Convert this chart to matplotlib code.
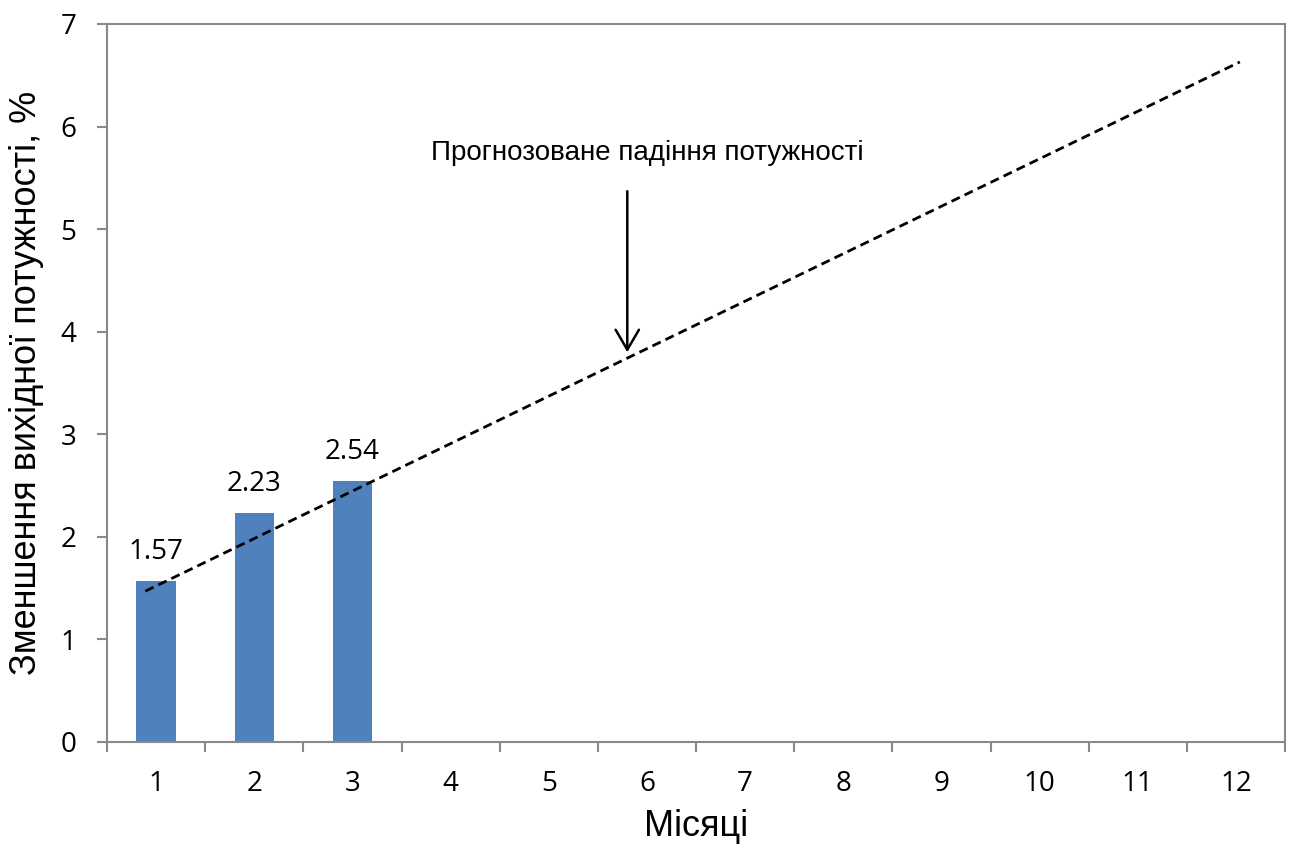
import numpy as np
import matplotlib
matplotlib.use('Agg')
import matplotlib.pyplot as plt

# дані
months = list(range(1, 13))
bar_months = [1, 2, 3]
loss = [1.57, 2.23, 2.54]

# лінія прогнозу (кінці)
trend_x = [0.89, 12.04]
trend_y = [1.47, 6.63]

arrow_x = 5.80
arrow_y_from = 5.37
arrow_y_to = 3.80
note = 'Прогнозоване падіння потужності'
note_xy = (6.0, 5.74)

BAR_COLOR = '#4F81BD'
AX_COLOR = '#898989'
NUM_FONT = ['Open Sans', 'DejaVu Sans']
TXT_FONT = ['Liberation Sans', 'DejaVu Sans']

fig = plt.figure(figsize=(12.9, 8.49), dpi=100)
ax = fig.add_axes([107 / 1290, 1 - 742 / 849, (1285 - 107) / 1290, (742 - 24) / 849])

ax.bar(bar_months, loss, width=0.4, color=BAR_COLOR, zorder=2)
for x, v in zip(bar_months, loss):
    ax.annotate('{:.2f}'.format(v), xy=(x, v), xytext=(0, 16), textcoords='offset points',
                ha='center', va='baseline', fontsize=20, family=NUM_FONT)

ax.plot(trend_x, trend_y, color='black', lw=2, linestyle=(0, (3.3, 1.9)), zorder=3)

ax.annotate('', xy=(arrow_x, arrow_y_to), xytext=(arrow_x, arrow_y_from),
            arrowprops=dict(arrowstyle='->,head_length=0.72,head_width=0.42',
                            mutation_scale=20, lw=1.8, color='black',
                            shrinkA=0, shrinkB=0))
ax.text(note_xy[0], note_xy[1], note, ha='center', va='center', fontsize=20, family=TXT_FONT)

ax.set_xlim(0.5, 12.5)
ax.set_ylim(0, 7)

# поділки між категоріями, підписи по центру
ax.set_xticks(np.arange(0.5, 13, 1))
ax.set_xticklabels([])
ax.set_xticks(months, minor=True)
ax.set_xticklabels([str(m) for m in months], minor=True, fontsize=20, family=NUM_FONT)
ax.tick_params(axis='x', which='major', direction='out', length=7, width=1.5, color=AX_COLOR)
ax.tick_params(axis='x', which='minor', length=0, pad=20)

ax.set_yticks(range(0, 8))
ax.set_yticklabels([str(i) for i in range(0, 8)], fontsize=20, family=NUM_FONT)
ax.tick_params(axis='y', direction='out', length=7, width=1.5, color=AX_COLOR, pad=15)

for s in ax.spines.values():
    s.set_color(AX_COLOR)
    s.set_linewidth(1.5)

ax.set_xlabel('Місяці', fontsize=26, family=TXT_FONT, labelpad=8)
ax.set_ylabel('Зменшення вихідної потужності, %', fontsize=26, family=TXT_FONT, labelpad=12)

fig.savefig('out.png', dpi=100)
